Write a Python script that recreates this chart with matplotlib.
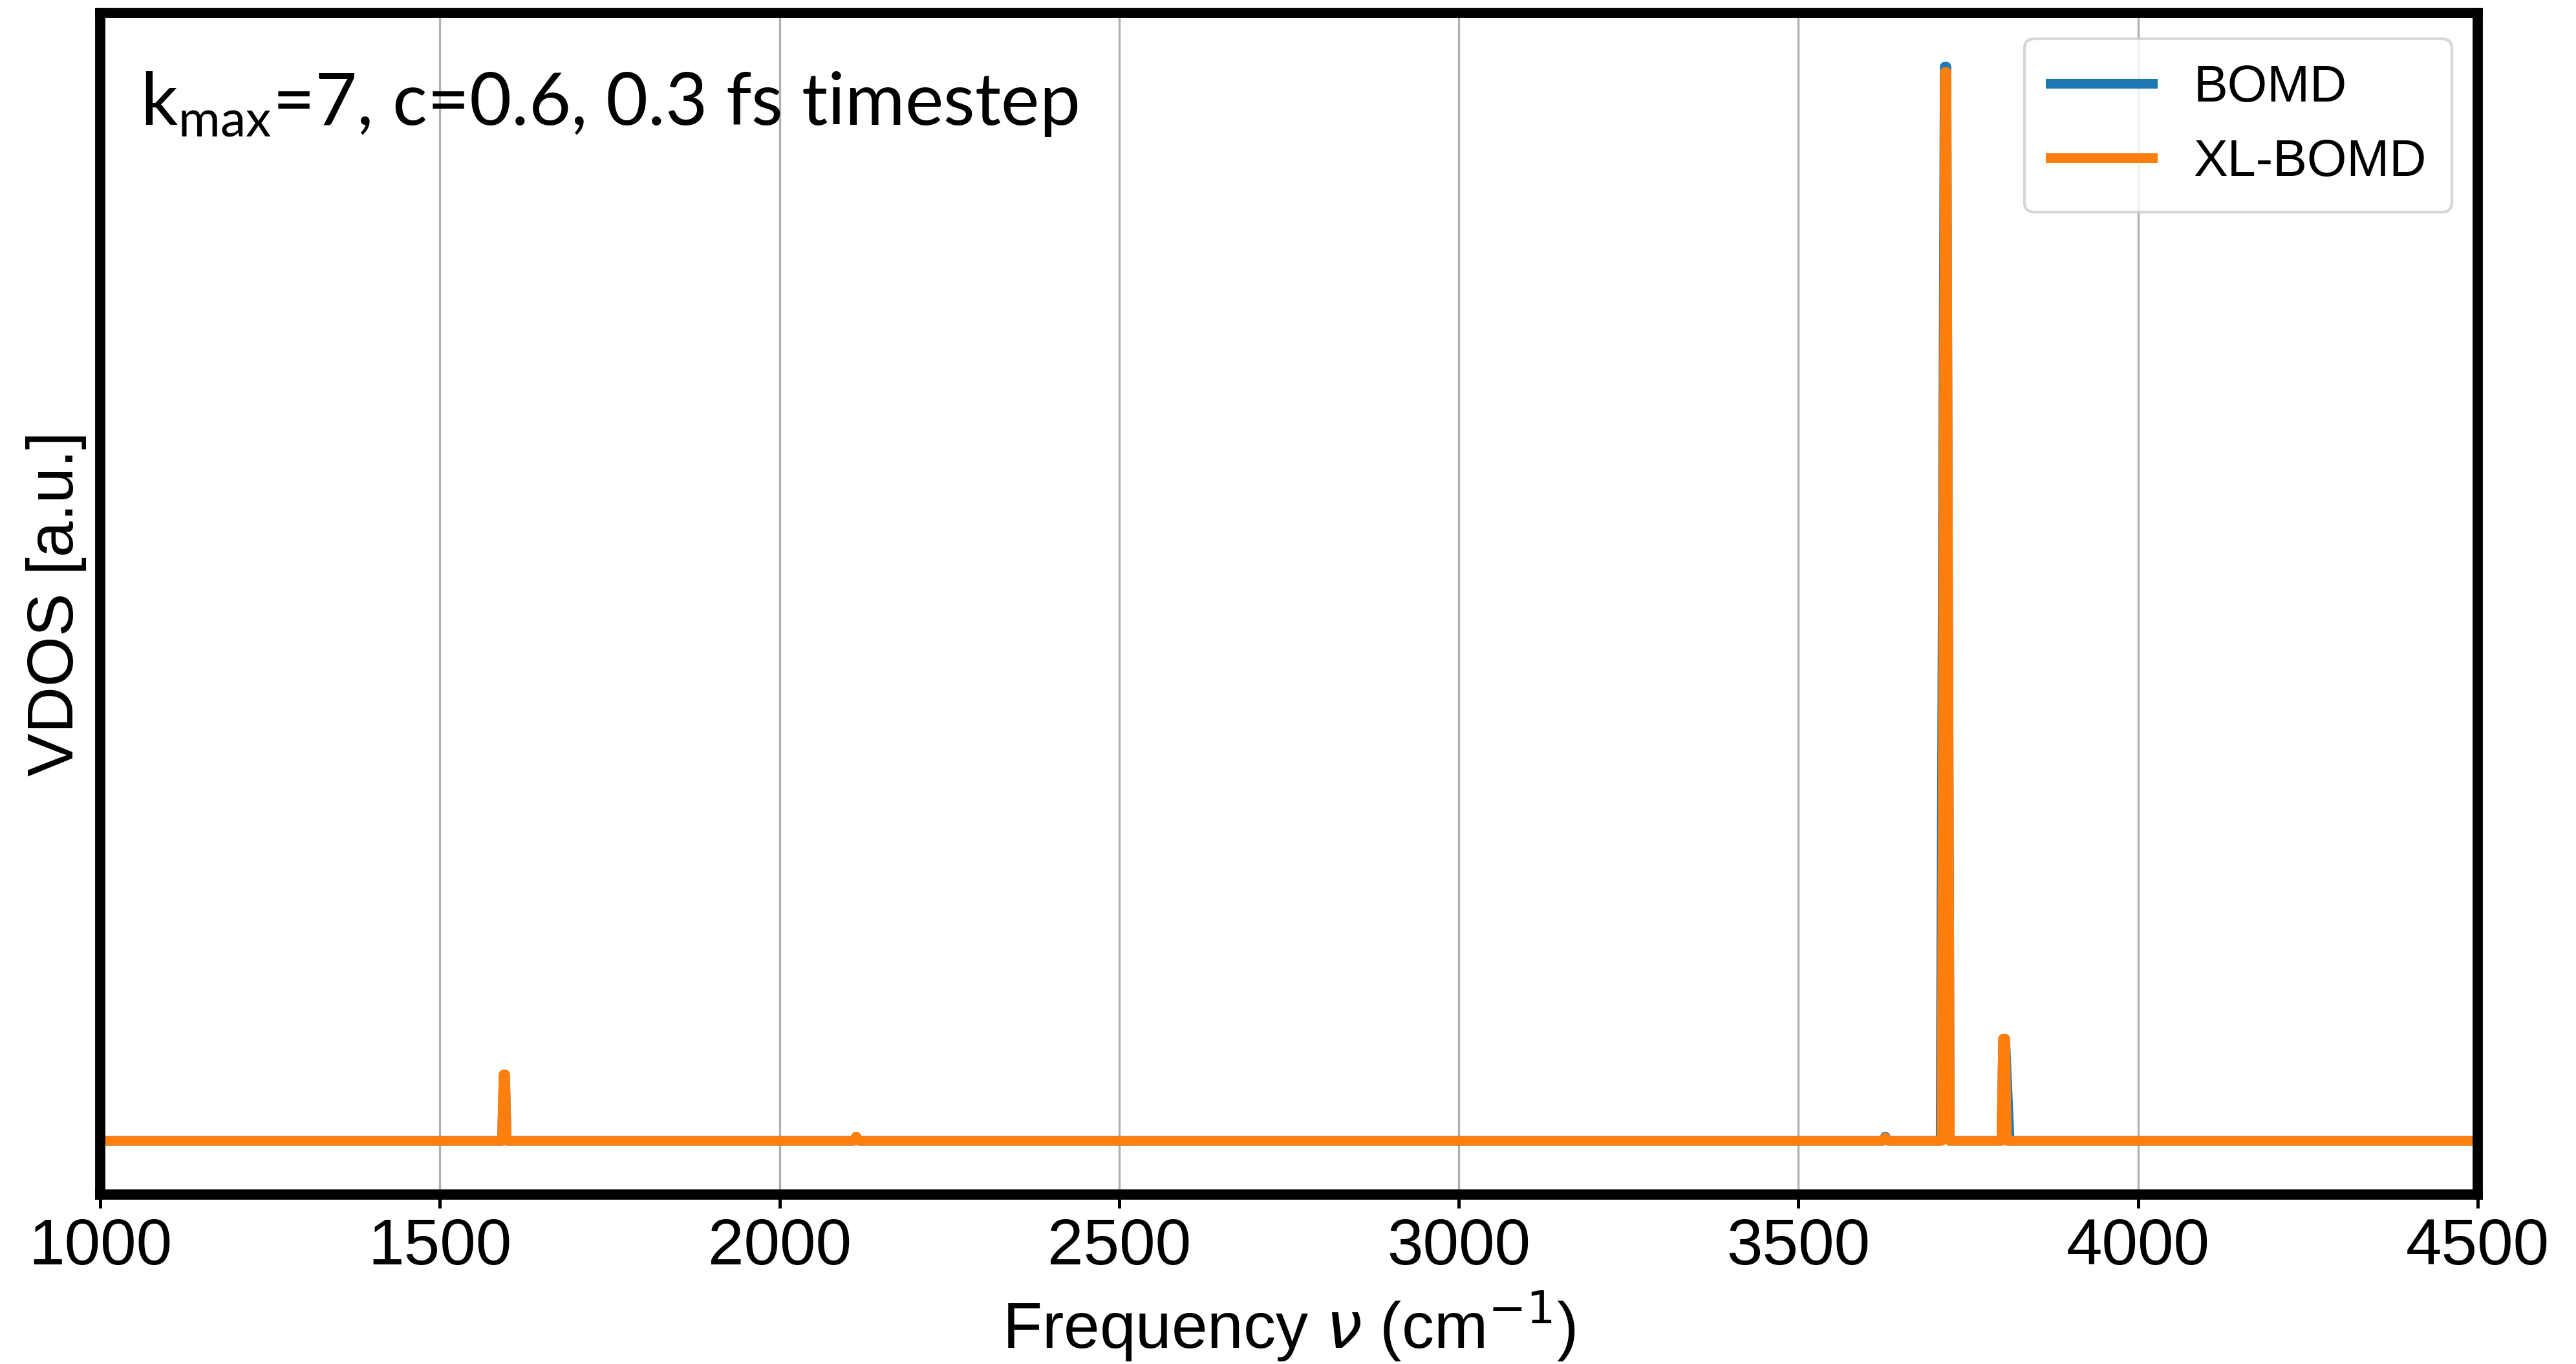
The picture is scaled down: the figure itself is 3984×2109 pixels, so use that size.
import matplotlib
matplotlib.use('Agg')
from matplotlib import pyplot as plt

# VDOS spectra (normalised), listed as polyline points
freq_bomd = [1000, 1591.5, 1594, 1596, 1598.5, 2109, 2113, 2117, 3624, 3628, 3632,
             3709.5, 3715.5, 3718, 3723, 3799, 3801.5, 3804.5, 3811, 4500]
vdos_bomd = [0, 0, 0.061, 0.061, 0, 0, 0.004, 0, 0, 0.004, 0,
             0, 1.0, 1.0, 0, 0, 0.095, 0.095, 0, 0]

freq_xl = [1000, 1591.5, 1594, 1596, 1598.5, 2109, 2113, 2117, 3624, 3628, 3632,
           3711, 3716, 3718, 3723, 3799, 3801.5, 3804.5, 3807, 4500]
vdos_xl = [0, 0, 0.062, 0.062, 0, 0, 0.004, 0, 0, 0.003, 0,
           0, 0.995, 0.995, 0, 0, 0.095, 0.095, 0, 0]

xticks = [1000, 1500, 2000, 2500, 3000, 3500, 4000, 4500]
params_text = r'k$_{\mathregular{max}}$=7, c=0.6, 0.3 fs timestep'

plt.rcParams['font.family'] = ['Liberation Sans', 'DejaVu Sans']
plt.rcParams['mathtext.fontset'] = 'dejavusans'

fig = plt.figure(figsize=(13.28, 7.03), dpi=300)
ax = fig.add_axes([0.0389, 0.1242, 0.9229, 0.8663])

ax.plot(freq_bomd, vdos_bomd, color='#1f77b4', lw=3.6, label='BOMD')
ax.plot(freq_xl, vdos_xl, color='#ff7f0e', lw=3.6, label='XL-BOMD')

ax.set_xlim(1000, 4500)
ax.set_xticks(xticks)
ax.set_yticks([])
ax.tick_params(axis='x', labelsize=24, length=5, width=1.2)
ax.grid(axis='x', color='#b0b0b0', lw=0.8)
for sp in ax.spines.values():
    sp.set_linewidth(3.8)

ax.set_xlabel(r'Frequency $\nu$ (cm$^{-1}$)', fontsize=24, labelpad=4)
ax.set_ylabel('VDOS [a.u.]', fontsize=24, labelpad=5)

ax.text(0.017, 0.952, params_text, transform=ax.transAxes, fontsize=27,
        family=['Lato', 'Liberation Sans'], va='top', ha='left')

ax.legend(loc='upper right', fontsize=19, labelspacing=0.5,
          handlelength=2.0, borderpad=0.5)

fig.savefig('out.png', dpi=300)
